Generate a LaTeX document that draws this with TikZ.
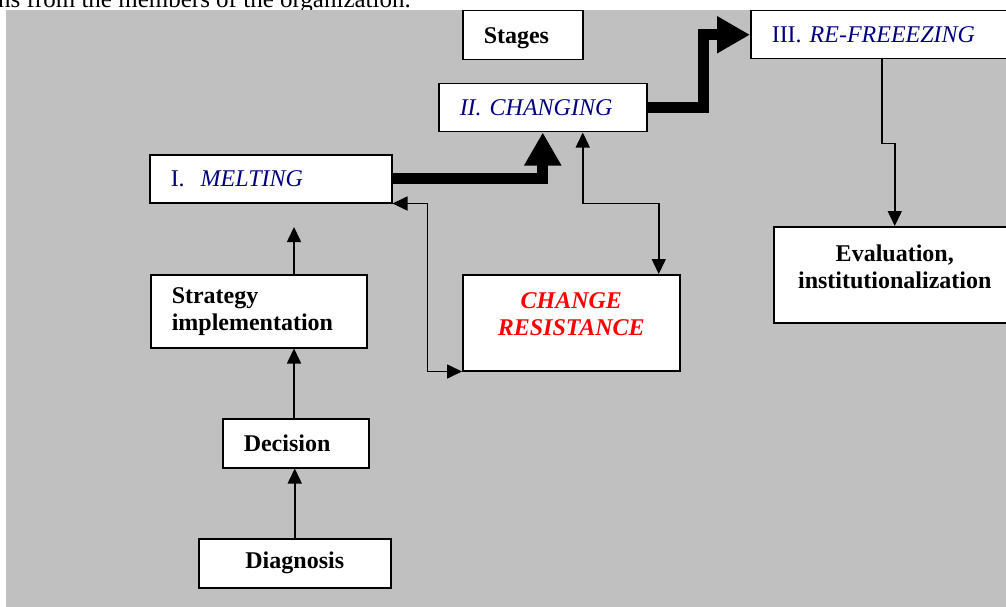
\documentclass[tikz,border=0pt]{standalone}
\usepackage{fontspec}
\setmainfont{Liberation Serif}
\usetikzlibrary{arrows.meta}
\definecolor{bggray}{HTML}{C0C0C0}
\definecolor{stageblue}{HTML}{000080}
\definecolor{resred}{HTML}{FF0000}
\tikzset{
  box/.style={draw, line width=1.5pt, fill=white, anchor=north west,
    inner xsep=21pt, inner ysep=0pt, align=left,
    font=\fontsize{24}{27}\selectfont},
  arr/.style={line width=1.6pt, -{Triangle[width=14pt,length=15pt]}},
  dblarr/.style={line width=1.6pt,
    {Triangle[width=14pt,length=15pt]}-{Triangle[width=14pt,length=15pt]}},
  bigarr/.style={line width=11pt, miter limit=4,
    -{Triangle[width=35pt,length=33pt]}},
}
\begin{document}
\begin{tikzpicture}[x=1pt,y=-1pt]
\useasboundingbox (0,0) rectangle (1006,607);
\node[anchor=base west, inner sep=0pt, font=\fontsize{25}{30}\selectfont] (topline) at (-2,8) {ns from the members of the organization.};
\fill[bggray] (6,10) rectangle (1006,607);

% stages
\node[box, text width=78pt, minimum height=49pt, text depth=0pt] (stages) at (462,10) {\textbf{Stages}};
\node[box, text width=200pt, minimum height=48pt, text=stageblue] (melt) at (149,154) {I.\ \ \textit{MELTING}};
\node[box, text width=166pt, minimum height=48pt, text=stageblue] (chg) at (438,83) {\textit{II. CHANGING}};
\node[box, text width=220pt, minimum height=48pt, text=stageblue] (refr) at (750,10) {III. \textit{RE-FREEEZING}};

% steps
\node[box, text width=174pt, minimum height=73pt] (strat) at (150,274) {\textbf{Strategy}\\\textbf{implementation}};
\node[box, text width=104pt, minimum height=49pt] (dec) at (222,418) {\textbf{Decision}};
\node[box, text width=150pt, minimum height=49pt, align=center] (diag) at (198,538) {\textbf{Diagnosis}};
\node[box, text width=175pt, minimum height=96pt, align=center, text depth=44pt, text=resred] (res) at (462,274) {\textbf{\textit{CHANGE}}\\\textbf{\textit{RESISTANCE}}};
\node[box, text width=200pt, minimum height=96pt, align=center, text depth=44pt] (eval) at (773,226) {\textbf{Evaluation,}\\\textbf{institutionalization}};

\coordinate (up) at (294,227);

\draw[bigarr] (melt.east) -| (chg.south);
\draw[bigarr] (chg.east) -- ++(56,0) |- (refr.west);

\draw[dblarr] ([xshift=40pt]chg.south) -- ++(0,71) -| ([xshift=87.5pt]res.north);
\draw[dblarr] (melt.south east) -- ++(35,0) |- (res.south west);

\draw[arr] (diag.north) -- (diag.north |- dec.south);
\draw[arr] (dec.north -| up) -- (strat.south -| up);
\draw[arr] (strat.north -| up) -- (up);
\draw[arr] (refr.south) -- ++(0,84) -| (eval.north);

\end{tikzpicture}
\end{document}
